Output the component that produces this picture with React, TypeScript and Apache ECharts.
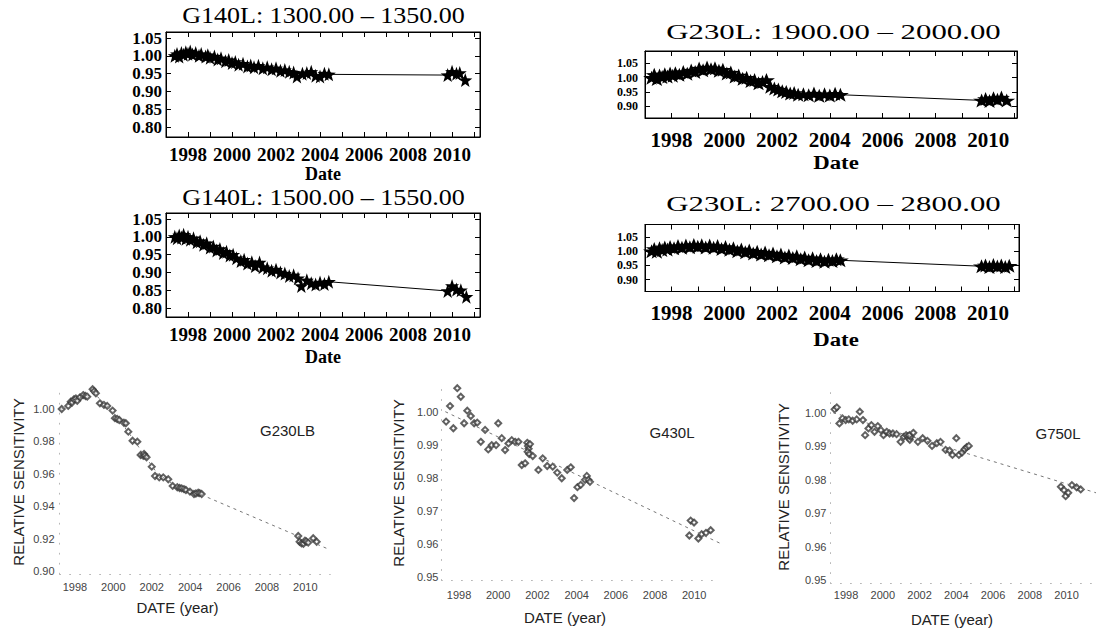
import React, { useEffect, useRef } from "react";
import * as echarts from "echarts";

// ---------------- data ----------------
const yearTicks = [1997, 1998, 1999, 2000, 2001, 2002, 2003, 2004, 2005, 2006, 2007, 2008, 2009, 2010, 2011];
const yearLabels = [1998, 2000, 2002, 2004, 2006, 2008, 2010];

const g140lSensTicks = [0.8, 0.85, 0.9, 0.95, 1.0, 1.05];
const g230lSensTicks = [0.9, 0.95, 1.0, 1.05];
const g230lSensLabelsA = [0.95, 1.05];
const g230lSensLabelsB = [0.9, 1.0];
const g230lbSensTicks = [0.9, 0.92, 0.94, 0.96, 0.98, 1.0];
const g430lSensTicks = [0.95, 0.96, 0.97, 0.98, 0.99, 1.0];
const g750lSensTicks = [0.95, 0.96, 0.97, 0.98, 0.99, 1.0];

const topTitles = [
  "G140L: 1300.00 \u2013 1350.00",
  "G140L: 1500.00 \u2013 1550.00",
  "G230L: 1900.00 \u2013 2000.00",
  "G230L: 2700.00 \u2013 2800.00",
];
const bottomNames = ["G230LB", "G430L", "G750L"];

// G140L 1300-1350 : [date, relative sensitivity]
const g140l1300 = [
  [1997.4, 1.0], [1997.5, 1.005], [1997.6, 0.998], [1997.7, 1.008], [1997.8, 1.003], [1997.9, 1.01],
  [1998.0, 1.006], [1998.1, 1.012], [1998.2, 1.004], [1998.35, 1.008], [1998.5, 1.0], [1998.6, 1.005],
  [1998.8, 0.998], [1998.9, 1.002], [1999.0, 0.995], [1999.2, 0.998], [1999.35, 0.99], [1999.5, 0.993],
  [1999.7, 0.985], [1999.85, 0.988], [2000.0, 0.98], [2000.15, 0.983], [2000.3, 0.975], [2000.5, 0.978],
  [2000.7, 0.97], [2000.85, 0.973], [2001.0, 0.968], [2001.2, 0.972], [2001.4, 0.965], [2001.6, 0.968],
  [2001.8, 0.962], [2002.0, 0.965], [2002.2, 0.958], [2002.4, 0.96], [2002.6, 0.955], [2002.8, 0.953],
  [2002.95, 0.942], [2003.2, 0.95], [2003.4, 0.952], [2003.6, 0.955], [2003.8, 0.944], [2004.0, 0.942],
  [2004.2, 0.95], [2004.4, 0.948], [2009.8, 0.946], [2010.0, 0.955], [2010.2, 0.95], [2010.35, 0.952],
  [2010.6, 0.932],
];

// G140L 1500-1550
const g140l1500 = [
  [1997.4, 1.0], [1997.5, 0.996], [1997.6, 1.004], [1997.7, 0.998], [1997.8, 1.006], [1997.9, 0.995],
  [1998.0, 1.0], [1998.1, 0.992], [1998.25, 0.996], [1998.4, 0.985], [1998.55, 0.988], [1998.7, 0.978],
  [1998.85, 0.982], [1999.0, 0.97], [1999.15, 0.973], [1999.3, 0.962], [1999.45, 0.966], [1999.6, 0.955],
  [1999.75, 0.958], [1999.9, 0.948], [2000.05, 0.95], [2000.2, 0.94], [2000.4, 0.932], [2000.55, 0.936],
  [2000.7, 0.925], [2000.9, 0.929], [2001.05, 0.918], [2001.25, 0.928], [2001.4, 0.915], [2001.6, 0.912],
  [2001.8, 0.905], [2002.0, 0.908], [2002.2, 0.9], [2002.4, 0.897], [2002.6, 0.89], [2002.8, 0.892],
  [2003.0, 0.884], [2003.15, 0.862], [2003.4, 0.878], [2003.6, 0.87], [2003.8, 0.866], [2004.0, 0.872],
  [2004.2, 0.868], [2004.4, 0.874], [2009.8, 0.848], [2010.0, 0.862], [2010.2, 0.852], [2010.4, 0.85],
  [2010.65, 0.832],
];

// G230L 1900-2000
const g230l1900 = [
  [1997.25, 1.0], [1997.35, 1.01], [1997.45, 0.995], [1997.55, 1.008], [1997.65, 1.002], [1997.75, 1.012],
  [1997.85, 1.004], [1997.95, 1.015], [1998.05, 1.007], [1998.15, 1.016], [1998.3, 1.01], [1998.45, 1.02],
  [1998.6, 1.014], [1998.75, 1.025], [1998.9, 1.02], [1999.05, 1.032], [1999.2, 1.026], [1999.35, 1.036],
  [1999.5, 1.03], [1999.65, 1.033], [1999.8, 1.024], [1999.95, 1.028], [2000.1, 1.015], [2000.25, 1.018],
  [2000.4, 1.004], [2000.55, 1.008], [2000.7, 0.996], [2000.85, 1.0], [2001.0, 0.988], [2001.15, 0.992],
  [2001.3, 0.98], [2001.45, 0.985], [2001.6, 0.992], [2001.75, 0.968], [2001.9, 0.962], [2002.05, 0.958],
  [2002.2, 0.952], [2002.35, 0.95], [2002.5, 0.944], [2002.65, 0.946], [2002.8, 0.94], [2003.0, 0.942],
  [2003.2, 0.938], [2003.4, 0.944], [2003.6, 0.936], [2003.8, 0.942], [2004.0, 0.937], [2004.2, 0.943],
  [2004.4, 0.94], [2009.75, 0.92], [2009.9, 0.925], [2010.05, 0.918], [2010.2, 0.928], [2010.35, 0.922],
  [2010.5, 0.93], [2010.7, 0.92],
];

// G230L 2700-2800
const g230l2700 = [
  [1997.25, 1.0], [1997.35, 1.008], [1997.45, 0.998], [1997.55, 1.01], [1997.65, 1.004], [1997.75, 1.013],
  [1997.85, 1.006], [1997.95, 1.015], [1998.1, 1.01], [1998.25, 1.018], [1998.4, 1.012], [1998.55, 1.02],
  [1998.7, 1.014], [1998.85, 1.022], [1999.0, 1.016], [1999.15, 1.021], [1999.3, 1.013], [1999.45, 1.02],
  [1999.6, 1.012], [1999.75, 1.018], [1999.9, 1.008], [2000.05, 1.015], [2000.2, 1.005], [2000.35, 1.01],
  [2000.5, 1.0], [2000.65, 1.006], [2000.8, 0.996], [2000.95, 1.002], [2001.1, 0.992], [2001.25, 0.998],
  [2001.4, 0.988], [2001.55, 0.995], [2001.7, 0.986], [2001.85, 0.992], [2002.0, 0.982], [2002.15, 0.988],
  [2002.3, 0.978], [2002.45, 0.985], [2002.6, 0.976], [2002.75, 0.982], [2002.9, 0.972], [2003.05, 0.978],
  [2003.2, 0.968], [2003.35, 0.975], [2003.5, 0.965], [2003.65, 0.972], [2003.8, 0.963], [2003.95, 0.97],
  [2004.1, 0.965], [2004.25, 0.972], [2004.4, 0.968], [2009.75, 0.947], [2009.9, 0.95], [2010.05, 0.944],
  [2010.2, 0.951], [2010.35, 0.946], [2010.5, 0.95], [2010.65, 0.944], [2010.8, 0.949],
];

// G230LB measurements and trend
const g230lbPoints = [
  [1997.31, 1.0], [1997.65, 1.0019], [1997.78, 1.0045], [1997.85, 1.004], [1997.95, 1.006], [1998.05, 1.0065],
  [1998.12, 1.0051], [1998.26, 1.0072], [1998.43, 1.0086], [1998.55, 1.008], [1998.64, 1.0076], [1998.92, 1.0122],
  [1999.0, 1.011], [1999.09, 1.0097], [1999.3, 1.0035], [1999.51, 1.0025], [1999.68, 1.0019], [1999.96, 0.999],
  [2000.08, 0.9943], [2000.2, 0.9938], [2000.31, 0.9932], [2000.55, 0.9915], [2000.65, 0.9912], [2000.78, 0.986],
  [2001.0, 0.9804], [2001.25, 0.9798], [2001.42, 0.9716], [2001.56, 0.971], [2001.6, 0.9722], [2001.65, 0.9712],
  [2001.73, 0.9702], [2002.0, 0.9644], [2002.17, 0.9586], [2002.39, 0.9578], [2002.6, 0.9578], [2002.86, 0.9566],
  [2003.09, 0.9525], [2003.33, 0.9517], [2003.45, 0.9512], [2003.56, 0.951], [2003.68, 0.9505], [2003.78, 0.95],
  [2003.99, 0.949], [2004.2, 0.9475], [2004.3, 0.9478], [2004.42, 0.9483], [2004.5, 0.948], [2004.6, 0.9475],
  [2009.63, 0.9216], [2009.7, 0.918], [2009.8, 0.917], [2009.9, 0.9168], [2009.98, 0.9187], [2010.05, 0.9182],
  [2010.15, 0.9175], [2010.41, 0.9202], [2010.59, 0.918],
];
const g230lbTrend = [
  [1997.3, 1.0], [1998.0, 1.0055], [1998.9, 1.0105], [1999.5, 1.004], [2000.2, 0.995], [2001.0, 0.982],
  [2001.7, 0.97], [2002.3, 0.96], [2003.0, 0.9545], [2004.0, 0.9495], [2004.6, 0.947], [2011.2, 0.9135],
];

// G430L measurements and trend
const g430lPoints = [
  [1997.34, 0.997], [1997.54, 1.0017], [1997.71, 0.995], [1997.91, 1.0071], [1998.09, 1.0045], [1998.26, 0.9965],
  [1998.42, 1.0003], [1998.6, 0.9987], [1998.77, 0.9965], [1998.93, 0.9967], [1999.11, 0.9909], [1999.33, 0.9945],
  [1999.49, 0.9886], [1999.67, 0.9899], [1999.89, 0.9899], [2000.0, 0.9965], [2000.18, 0.992], [2000.35, 0.9884],
  [2000.52, 0.9904], [2000.69, 0.9914], [2000.86, 0.9909], [2001.03, 0.9909], [2001.2, 0.9839], [2001.37, 0.9844],
  [2001.48, 0.9906], [2001.52, 0.9896], [2001.55, 0.9888], [2001.5, 0.9879], [2001.58, 0.9872], [2001.62, 0.9902],
  [2001.76, 0.9866], [2002.05, 0.9824], [2002.27, 0.9859], [2002.5, 0.9836], [2002.78, 0.9834], [2003.01, 0.9816],
  [2003.24, 0.9799], [2003.52, 0.9824], [2003.7, 0.9832], [2003.87, 0.9739], [2004.04, 0.9772], [2004.21, 0.9779],
  [2004.43, 0.9794], [2004.52, 0.9806], [2004.6, 0.9794], [2004.68, 0.9788], [2009.75, 0.9626], [2009.82, 0.9671],
  [2009.99, 0.9665], [2010.21, 0.9617], [2010.38, 0.963], [2010.6, 0.9634], [2010.84, 0.9642],
];
const g430lTrend = [[1997.3, 1.0], [2011.3, 0.9603]];

// G750L measurements and trend
const g750lPoints = [
  [1997.38, 1.001], [1997.5, 1.0016], [1997.64, 0.9968], [1997.81, 0.9983], [1997.98, 0.9978], [1998.15, 0.998],
  [1998.36, 0.9976], [1998.58, 0.998], [1998.75, 1.0003], [1998.92, 0.9978], [1999.04, 0.9933], [1999.22, 0.9953],
  [1999.38, 0.9963], [1999.55, 0.9943], [1999.73, 0.996], [1999.9, 0.9948], [2000.04, 0.9933], [2000.21, 0.9943],
  [2000.37, 0.9938], [2000.55, 0.9938], [2000.75, 0.9936], [2000.97, 0.9913], [2001.14, 0.9928], [2001.27, 0.9933],
  [2001.37, 0.993], [2001.42, 0.9924], [2001.47, 0.9919], [2001.52, 0.9928], [2001.45, 0.9933], [2001.66, 0.994],
  [2001.91, 0.9913], [2002.17, 0.9924], [2002.43, 0.9916], [2002.68, 0.9901], [2002.94, 0.9909], [2003.14, 0.9913],
  [2003.42, 0.9889], [2003.63, 0.9887], [2003.79, 0.9874], [2004.0, 0.9924], [2004.14, 0.9874], [2004.31, 0.9881],
  [2004.45, 0.9891], [2004.56, 0.9897], [2004.68, 0.9901], [2009.69, 0.9779], [2009.86, 0.9769], [2009.95, 0.9751],
  [2010.09, 0.9761], [2010.29, 0.9784], [2010.55, 0.9777], [2010.77, 0.9771],
];
const g750lTrend = [[1997.3, 1.0], [2011.6, 0.9761]];

// ---------------- styling / layout ----------------
const SERIF = "'Liberation Serif', 'DejaVu Serif', serif";
const SANS = "'Liberation Sans', Arial, Helvetica, sans-serif";
const STAR =
  "path://M0,-50L11.8,-16.2L47.6,-15.5L19,6.2L29.4,40.5L0,20L-29.4,40.5L-19,6.2L-47.6,-15.5L-11.8,-16.2Z";

// each top panel may split its y labels over several label-only axes (the labels are packed tightly)
const topPanels = [
  { data: g140l1300, box: [166, 32, 314, 105], x: [1997, 2011.27], y: [0.772, 1.067], yTicks: g140lSensTicks,
    yLabelSets: [g140lSensTicks], xFont: 19, yFont: 17, yLine: 17, yBold: "bold", xMargin: 8, yMargin: 4,
    sym: 14 as any },
  { data: g140l1500, box: [166, 213, 314, 104], x: [1997, 2011.27], y: [0.775, 1.067], yTicks: g140lSensTicks,
    yLabelSets: [g140lSensTicks], xFont: 19, yFont: 17, yLine: 17, yBold: "bold", xMargin: 8, yMargin: 4,
    sym: 14 as any },
  { data: g230l1900, box: [645, 51, 372, 67], x: [1997, 2011.09], y: [0.858, 1.094], yTicks: g230lSensTicks,
    yLabelSets: [g230lSensLabelsA, g230lSensLabelsB], xFont: 21, yFont: 12, yLine: 12, yBold: "bold",
    xMargin: 11, yMargin: 7, sym: [17, 14] as any },
  { data: g230l2700, box: [645, 224.5, 374, 67], x: [1997, 2011.17], y: [0.858, 1.094], yTicks: g230lSensTicks,
    yLabelSets: [g230lSensLabelsA, g230lSensLabelsB], xFont: 21, yFont: 12, yLine: 12, yBold: "bold",
    xMargin: 11, yMargin: 7, sym: [17, 14] as any },
];

const bottomPanels = [
  { pts: g230lbPoints, trend: g230lbTrend, box: [59.6, 386.3, 270.7, 187.9], x: [1997.2, 2011.3], y: [0.898, 1.014],
    yTicks: g230lbSensTicks, xMargin: 7, yMargin: 5 },
  { pts: g430lPoints, trend: g430lTrend, box: [441.4, 385.2, 278.3, 195.3], x: [1997.1, 2011.3], y: [0.949, 1.008],
    yTicks: g430lSensTicks, xMargin: 9, yMargin: 3 },
  { pts: g750lPoints, trend: g750lTrend, box: [830.4, 392.6, 281.8, 191], x: [1997.15, 2011.6], y: [0.949, 1.006],
    yTicks: g750lSensTicks, xMargin: 6, yMargin: 4 },
];

function txt(text: string, x: number, y: number, size: number, family: string, weight: string, fill: string,
  extra: any = {}) {
  return {
    type: "text", x, y, silent: true, ...extra,
    style: {
      text, fontSize: size, fontFamily: family, fontWeight: weight, fill,
      align: "center", verticalAlign: "middle", textAlign: "center", textVerticalAlign: "middle",
    },
  };
}

function buildOption() {
  const grid: any[] = [];
  const xAxis: any[] = [];
  const yAxis: any[] = [];
  const series: any[] = [];

  topPanels.forEach((p) => {
    const gi = grid.length;
    grid.push({ left: p.box[0], top: p.box[1], width: p.box[2], height: p.box[3], show: true,
      borderColor: "#000", borderWidth: 1, backgroundColor: "transparent" });
    const tick = { show: true, inside: true, length: 5, lineStyle: { color: "#000", width: 1 } };
    const line = { show: true, onZero: false, lineStyle: { color: "#000", width: 1 } };
    const xi = xAxis.length;
    xAxis.push({
      gridIndex: gi, type: "value", position: "bottom", min: p.x[0], max: p.x[1],
      splitLine: { show: false }, axisLine: line,
      axisTick: { ...tick, customValues: yearTicks },
      axisLabel: { customValues: yearLabels, formatter: (v: number) => String(Math.round(v)),
        fontFamily: SERIF, fontWeight: "bold", fontSize: p.xFont, color: "#000", margin: p.xMargin,
        showMinLabel: true, showMaxLabel: true },
    });
    xAxis.push({
      gridIndex: gi, type: "value", position: "top", min: p.x[0], max: p.x[1],
      splitLine: { show: false }, axisLine: line,
      axisTick: { ...tick, customValues: yearTicks }, axisLabel: { show: false },
    });
    const yi = yAxis.length;
    yAxis.push({
      gridIndex: gi, type: "value", position: "left", min: p.y[0], max: p.y[1],
      splitLine: { show: false }, axisLine: line,
      axisTick: { ...tick, customValues: p.yTicks }, axisLabel: { show: false },
    });
    yAxis.push({
      gridIndex: gi, type: "value", position: "right", min: p.y[0], max: p.y[1],
      splitLine: { show: false }, axisLine: line,
      axisTick: { ...tick, customValues: p.yTicks }, axisLabel: { show: false },
    });
    p.yLabelSets.forEach((labels) => {
      yAxis.push({
        gridIndex: gi, type: "value", position: "left", offset: 0, min: p.y[0], max: p.y[1],
        splitLine: { show: false }, axisLine: { show: false }, axisTick: { show: false },
        axisLabel: { customValues: labels, formatter: (v: number) => v.toFixed(2),
          fontFamily: SERIF, fontWeight: p.yBold, fontSize: p.yFont, lineHeight: p.yLine, color: "#000",
          margin: p.yMargin, showMinLabel: true, showMaxLabel: true },
      });
    });
    series.push({
      type: "line", xAxisIndex: xi, yAxisIndex: yi, data: p.data, symbol: STAR, symbolSize: p.sym,
      showSymbol: true, itemStyle: { color: "#000" }, lineStyle: { color: "#000", width: 1 }, silent: true,
    });
  });

  bottomPanels.forEach((p) => {
    const gi = grid.length;
    grid.push({ left: p.box[0], top: p.box[1], width: p.box[2], height: p.box[3] });
    const line = { show: true, onZero: false, lineStyle: { color: "#b8b8b8", width: 1, type: [1, 9] } };
    const xi = xAxis.length;
    xAxis.push({
      gridIndex: gi, type: "value", min: p.x[0], max: p.x[1], splitLine: { show: false },
      axisLine: line, axisTick: { show: false },
      axisLabel: { customValues: yearLabels, formatter: (v: number) => String(Math.round(v)),
        fontFamily: SANS, fontSize: 11, color: "#444", margin: p.xMargin },
    });
    const yi = yAxis.length;
    yAxis.push({
      gridIndex: gi, type: "value", min: p.y[0], max: p.y[1], splitLine: { show: false },
      axisLine: line, axisTick: { show: false },
      axisLabel: { customValues: p.yTicks, formatter: (v: number) => v.toFixed(2),
        fontFamily: SANS, fontSize: 11, color: "#444", margin: p.yMargin },
    });
    series.push({
      type: "line", xAxisIndex: xi, yAxisIndex: yi, data: p.trend, symbol: "none", silent: true,
      lineStyle: { color: "#777", width: 1, type: [3, 4] },
    });
    series.push({
      type: "scatter", xAxisIndex: xi, yAxisIndex: yi, data: p.pts, symbol: "emptyDiamond", symbolSize: 6,
      silent: true, itemStyle: { color: "#3a3a3a", borderWidth: 1 },
    });
  });

  const graphic: any[] = [
    txt(topTitles[0], 323.5, 15, 24, SERIF, "normal", "#000", { scaleX: 1.085 }),
    txt(topTitles[1], 323.5, 197, 24, SERIF, "normal", "#000", { scaleX: 1.085 }),
    txt(topTitles[2], 833.5, 32, 22, SERIF, "normal", "#000", { scaleX: 1.4 }),
    txt(topTitles[3], 833.5, 204, 22, SERIF, "normal", "#000", { scaleX: 1.4 }),
    txt("Date", 323, 174, 18, SERIF, "bold", "#000"),
    txt("Date", 323, 357, 18, SERIF, "bold", "#000"),
    txt("Date", 836, 163, 19, SERIF, "bold", "#000", { scaleX: 1.2 }),
    txt("Date", 836, 340, 19, SERIF, "bold", "#000", { scaleX: 1.2 }),
    txt("RELATIVE SENSITIVITY", 18, 482, 15, SANS, "normal", "#222", { rotation: Math.PI / 2 }),
    txt("RELATIVE SENSITIVITY", 398, 483, 15, SANS, "normal", "#222", { rotation: Math.PI / 2 }),
    txt("RELATIVE SENSITIVITY", 783, 487, 15, SANS, "normal", "#222", { rotation: Math.PI / 2 }),
    txt("DATE (year)", 177.5, 607, 15, SANS, "normal", "#222"),
    txt("DATE (year)", 565, 617, 15, SANS, "normal", "#222"),
    txt("DATE (year)", 952, 619, 15, SANS, "normal", "#222"),
    txt(bottomNames[0], 287.5, 430, 15, SANS, "normal", "#222"),
    txt(bottomNames[1], 672, 432, 15, SANS, "normal", "#222"),
    txt(bottomNames[2], 1058, 433, 15, SANS, "normal", "#222"),
  ];

  return { animation: false, backgroundColor: "#fff", grid, xAxis, yAxis, series, graphic };
}

export default function App() {
  const ref = useRef<HTMLDivElement>(null);
  useEffect(() => {
    document.body.style.margin = "0";
    const chart = echarts.init(ref.current as HTMLDivElement, null, { renderer: "svg" });
    chart.setOption(buildOption() as any);
    return () => chart.dispose();
  }, []);
  return <div ref={ref} style={{ width: 1096, height: 631, background: "#fff" }} />;
}
